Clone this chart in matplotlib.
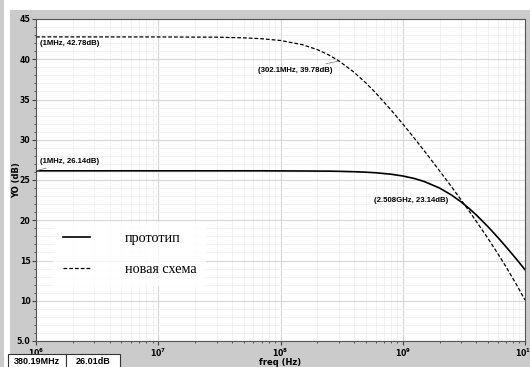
import matplotlib
matplotlib.use("Agg")
from matplotlib import pyplot as plt
from matplotlib.patches import Rectangle
from matplotlib.ticker import LogLocator, MultipleLocator
import numpy as np

# values (frequency in GHz, YO in dB)
freq_ghz = [0.001, 0.01, 0.03, 0.05, 0.07, 0.1, 0.15, 0.2, 0.25, 0.3, 0.4, 0.5, 0.6,
            0.8, 1.0, 1.25, 1.5, 2.0, 2.5, 3.0, 3.5, 4.0, 5.0, 6.0, 7.0, 8.5, 10.0]
yo_new = [42.78, 42.77, 42.74, 42.66, 42.55, 42.33, 41.82, 41.20, 40.51, 39.80, 38.38, 37.05, 35.83,
          33.72, 31.97, 30.15, 28.62, 26.14, 24.18, 22.53, 21.12, 19.86, 17.70, 15.84, 14.21, 12.03, 10.09]
yo_proto = [26.14, 26.14, 26.14, 26.14, 26.14, 26.13, 26.12, 26.11, 26.10, 26.08, 26.03, 25.97, 25.90,
            25.72, 25.50, 25.18, 24.81, 24.00, 23.14, 22.28, 21.45, 20.65, 19.17, 17.86, 16.70, 15.18, 13.86]

series_labels = ["прототип", "новая схема"]
markers = [  # (freq Hz, dB, text, dx px, dy px, ha)
    (1e6, 42.78, "(1MHz, 42.78dB)", 4, -7, "left"),
    (302.1e6, 39.78, "(302.1MHz, 39.78dB)", -7, -9, "right"),
    (1e6, 26.14, "(1MHz, 26.14dB)", 4, 9, "left"),
    (2.508e9, 23.14, "(2.508GHz, 23.14dB)", -3, -6, "right"),
]
readout = ["380.19MHz", "26.01dB"]

W, H = 530, 367
PANEL = "#cbcbcb"
SMALL = dict(family="Liberation Sans", fontweight="bold", fontsize=5.6)


def px_rect(fig, x0, y0, x1, y1, **kw):
    # rectangle given in image pixels (y down)
    fig.patches.append(Rectangle((x0 / W, 1 - y1 / H), (x1 - x0) / W, (y1 - y0) / H,
                                 transform=fig.transFigure, figure=fig, **kw))


fig = plt.figure(figsize=(W / 100, H / 100), dpi=100, facecolor="white")
px_rect(fig, 0, 0, 4, H, facecolor=PANEL, edgecolor="none", zorder=-5)
px_rect(fig, 10, 10, W, H, facecolor=PANEL, edgecolor="none", zorder=-5)

ax = fig.add_axes([36 / W, 1 - 341 / H, 489 / W, 322 / H])
ax.set_zorder(1)
ax.set_facecolor("white")

freq = np.array(freq_ghz) * 1e9
ax.plot(freq, yo_proto, color="black", lw=1.2, label=series_labels[0], zorder=3)
ax.plot(freq, yo_new, color="black", lw=0.9, ls=(0, (3, 1.6)), label=series_labels[1], zorder=3)

ax.set_xscale("log")
ax.set_xlim(1e6, 1e10)
ax.set_ylim(5, 45)
ax.yaxis.set_major_locator(MultipleLocator(5))
ax.yaxis.set_minor_locator(MultipleLocator(1))
ax.xaxis.set_minor_locator(LogLocator(base=10, subs=np.arange(2, 10)))
ax.set_yticks([5, 10, 15, 20, 25, 30, 35, 40, 45], ["5.0", "10", "15", "20", "25", "30", "35", "40", "45"])

ax.grid(which="major", color="#d6d6d6", lw=0.8)
ax.grid(which="minor", color="#f0f0f0", lw=0.6)
ax.set_axisbelow(True)
for s in ax.spines.values():
    s.set_color("#555555")
    s.set_linewidth(0.8)
ax.tick_params(which="both", colors="#444444", labelcolor="black", labelsize=5.6, pad=1)
ax.tick_params(which="major", length=3)
ax.tick_params(which="minor", length=1.5)
for lab in ax.get_xticklabels() + ax.get_yticklabels():
    lab.set_fontweight("bold")

ax.set_ylabel("YO (dB)", fontsize=6, fontweight="bold")
ax.yaxis.set_label_coords(-15 / 489, 0.5)
ax.set_xlabel("freq (Hz)", fontsize=6, fontweight="bold")
ax.xaxis.set_label_coords(0.5, -17 / 322)

for fx, fy, txt, dx, dy, ha in markers:
    ax.annotate(txt, (fx, fy), xytext=(dx, dy), textcoords="offset pixels",
                ha=ha, va="center", arrowprops=dict(arrowstyle="-", color="#777777", lw=0.5,
                                                    shrinkA=0, shrinkB=0), **SMALL)

leg = ax.legend(loc="upper left", bbox_to_anchor=(0.02, 0.392), frameon=True, fancybox=False,
                prop=dict(family="Liberation Serif", size=10.2), handlelength=1.9,
                handletextpad=2.47, labelspacing=1.3, borderpad=0.7)
leg.get_frame().set_facecolor("white")
leg.get_frame().set_edgecolor("none")

# cursor readout cells at the bottom
px_rect(fig, 8, 354, 66, 368, facecolor="white", edgecolor="#333333", lw=0.8, zorder=5)
px_rect(fig, 66, 354, 120, 368, facecolor="white", edgecolor="#333333", lw=0.8, zorder=5)
fig.text(37 / W, 1 - 361.5 / H, readout[0], ha="center", va="center", zorder=6,
         family="Liberation Sans", fontweight="bold", fontsize=6.5)
fig.text(93 / W, 1 - 361.5 / H, readout[1], ha="center", va="center", zorder=6,
         family="Liberation Sans", fontweight="bold", fontsize=6.5)

fig.savefig("out.png", dpi=100)
